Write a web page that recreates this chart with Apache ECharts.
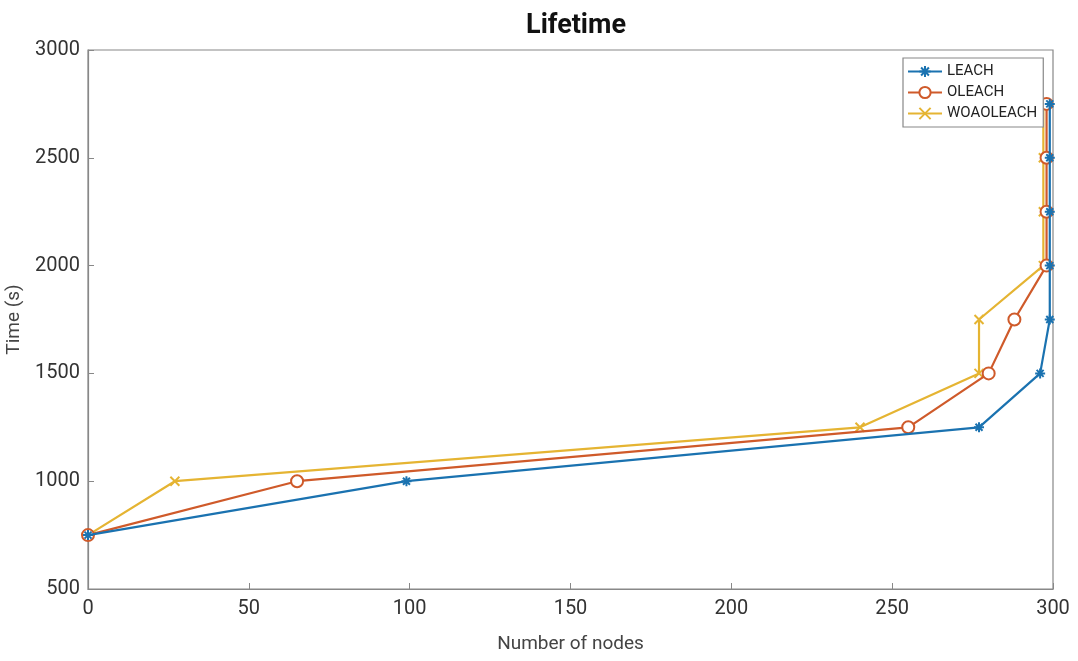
<!DOCTYPE html>
<html><head><meta charset="utf-8">
<script src="https://cdn.jsdelivr.net/npm/echarts@6/dist/echarts.min.js"></script>
<style>html,body{margin:0;padding:0;background:#fff}#c{width:1078px;height:661px}</style>
</head><body><div id="c"></div>
<script>
const seriesNames = ['LEACH', 'OLEACH', 'WOAOLEACH'];
const leachX = [0, 99, 277, 296, 299, 299, 299, 299, 299];
const leachY = [750, 1000, 1250, 1500, 1750, 2000, 2250, 2500, 2750];
const oleachX = [0, 65, 255, 280, 288, 298, 298, 298, 298];
const oleachY = [750, 1000, 1250, 1500, 1750, 2000, 2250, 2500, 2750];
const woaX = [0, 27, 240, 277, 277, 297, 297, 297, 297];
const woaY = [750, 1000, 1250, 1500, 1750, 2000, 2250, 2500, 2750];
const xTicks = [0, 50, 100, 150, 200, 250, 300];
const yTicks = [500, 1000, 1500, 2000, 2500, 3000];

const colors = ['#1a72b0', '#cf5a2a', '#e5b432'];
const asterisk = 'path://M5,0L5,10M0,5L10,5M1.5,1.5L8.5,8.5M8.5,1.5L1.5,8.5';
const cross = 'path://M0,0L10,10M10,0L0,10';
const zip = (xs, ys) => xs.map((x, i) => [x, ys[i]]);

const chart = echarts.init(document.getElementById('c'));
const labelStyle = { color: '#333', fontSize: 20, fontFamily: 'Roboto, Arial, sans-serif', formatter: v => String(v) };
const axisCommon = {
  axisLine: { show: true, onZero: false, lineStyle: { color: '#888', width: 1.2 } },
  axisTick: { show: true, inside: true, length: 6, lineStyle: { color: '#888' } },
  splitLine: { show: false }
};
chart.setOption({
  animation: false,
  backgroundColor: '#fff',
  title: {
    text: 'Lifetime', left: 571, top: 8, textAlign: 'center',
    textStyle: { fontSize: 27, fontWeight: 'bold', color: '#111', fontFamily: 'Roboto, Arial, sans-serif' }
  },
  grid: { left: 88, right: 25, top: 50, bottom: 72, outerBoundsMode: 'none', containLabel: false,
    show: true, borderColor: '#888', borderWidth: 1.2, backgroundColor: 'transparent' },
  legend: {
    orient: 'vertical', left: 903, top: 58,
    data: seriesNames,
    borderColor: '#888', borderWidth: 1.2, backgroundColor: '#fff',
    padding: [6, 6, 6, 4], itemGap: 6, itemWidth: 34, itemHeight: 14,
    textStyle: { fontSize: 15, color: '#222', fontFamily: 'Roboto, Arial, sans-serif' }
  },
  xAxis: Object.assign({
    type: 'value', min: 0, max: 300, interval: 50,
    name: 'Number of nodes', nameLocation: 'middle', nameGap: 46,
    nameTextStyle: { fontSize: 19, color: '#444', fontFamily: 'Roboto, Arial, sans-serif' },
    axisLabel: Object.assign({ margin: 10, customValues: xTicks }, labelStyle)
  }, axisCommon),
  yAxis: Object.assign({
    type: 'value', min: 500, max: 3000, interval: 500,
    name: 'Time (s)', nameLocation: 'middle', nameGap: 64, nameRotate: 90,
    nameTextStyle: { fontSize: 19, color: '#444', fontFamily: 'Roboto, Arial, sans-serif' },
    axisLabel: Object.assign({ margin: 8, customValues: yTicks }, labelStyle)
  }, axisCommon),
  series: [
    { name: seriesNames[0], type: 'line', data: zip(leachX, leachY), color: colors[0],
      symbol: asterisk, symbolSize: 10, showAllSymbol: true,
      lineStyle: { width: 2.2, color: colors[0] },
      itemStyle: { color: colors[0], borderColor: colors[0], borderWidth: 2 }, z: 3 },
    { name: seriesNames[1], type: 'line', data: zip(oleachX, oleachY), color: colors[1],
      symbol: 'emptyCircle', symbolSize: 12, showAllSymbol: true,
      lineStyle: { width: 2.2, color: colors[1] },
      itemStyle: { color: colors[1], borderColor: colors[1], borderWidth: 2 }, z: 2 },
    { name: seriesNames[2], type: 'line', data: zip(woaX, woaY), color: colors[2],
      symbol: cross, symbolSize: 9, showAllSymbol: true,
      lineStyle: { width: 2.2, color: colors[2] },
      itemStyle: { color: colors[2], borderColor: colors[2], borderWidth: 2 }, z: 1 }
  ]
});
</script></body></html>
